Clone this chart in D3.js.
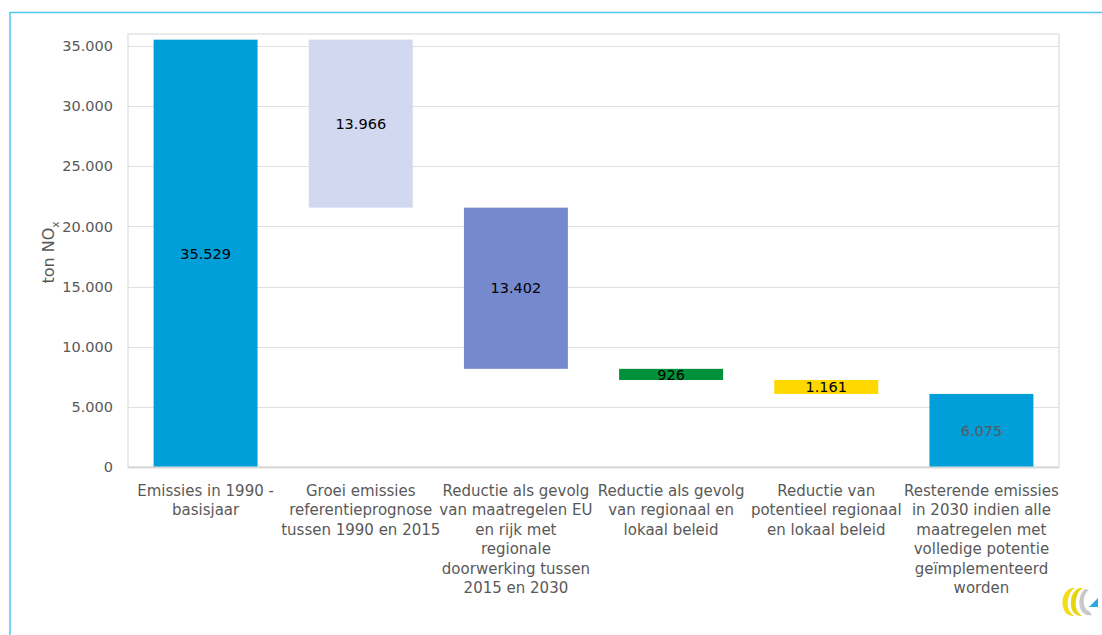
<!DOCTYPE html>
<html>
<head>
<meta charset="utf-8">
<script src="https://cdn.jsdelivr.net/npm/d3@7"></script>
<style>
  html, body { margin: 0; padding: 0; background: #fff; }
  svg { display: block; font-family: "DejaVu Sans", "Open Sans", sans-serif; }
</style>
</head>
<body>
<svg id="chart" width="1102" height="635"></svg>
<script>
// NOx waterfall: 1990 base, steps down to the remaining 2030 emissions
const categories = [
  ["Emissies in 1990 -", "basisjaar"],
  ["Groei emissies", "referentieprognose", "tussen 1990 en 2015"],
  ["Reductie als gevolg", "van maatregelen EU", "en rijk met", "regionale", "doorwerking tussen", "2015 en 2030"],
  ["Reductie als gevolg", "van regionaal en", "lokaal beleid"],
  ["Reductie van", "potentieel regionaal", "en lokaal beleid"],
  ["Resterende emissies", "in 2030 indien alle", "maatregelen met", "volledige potentie", "geïmplementeerd", "worden"]
];
const values = [35529, 13966, 13402, 926, 1161, 6075];
// "total" bars start at zero; "step" bars hang from the running total
const kinds = ["total", "step", "step", "step", "step", "total"];
const barColors = ["#009fda", "#d1d8ef", "#7689cf", "#00923a", "#ffd800", "#009fda"];
const labelColors = ["#000", "#000", "#000", "#000", "#000", "#595959"];
const yTicks = [0, 5000, 10000, 15000, 20000, 25000, 30000, 35000];

const svg = d3.select("#chart");
const margin = { left: 128, right: 1102 - 1059, top: 34, bottom: 635 - 467 };
const W = 1102, H = 635;
const fmt = v => d3.format(",")(v).replace(/,/g, ".");

// outer frame (top and left rules)
svg.append("line").attr("x1", 10).attr("x2", W).attr("y1", 12.5).attr("y2", 12.5)
  .attr("stroke", "#54c4ef").attr("stroke-width", 1.5);
svg.append("line").attr("x1", 10).attr("x2", 10).attr("y1", 12).attr("y2", H)
  .attr("stroke", "#54c4ef").attr("stroke-width", 1.5);

const x = d3.scaleBand()
  .domain(d3.range(categories.length))
  .range([margin.left, W - margin.right])
  .paddingInner(0.33).paddingOuter(0.165);

const y = d3.scaleLinear().domain([0, 36000]).range([H - margin.bottom, margin.top]);

// plot-area box
svg.append("rect")
  .attr("x", margin.left).attr("y", margin.top)
  .attr("width", W - margin.right - margin.left)
  .attr("height", H - margin.bottom - margin.top)
  .attr("fill", "none").attr("stroke", "#e3e3e3").attr("stroke-width", 1.5);

// gridlines
svg.append("g").selectAll("line").data(yTicks.slice(1)).join("line")
  .attr("x1", margin.left).attr("x2", W - margin.right)
  .attr("y1", d => Math.round(y(d)) + 0.5).attr("y2", d => Math.round(y(d)) + 0.5)
  .attr("stroke", "#e0e0e0").attr("stroke-width", 1);

// y axis labels
const yAxis = d3.axisLeft(y).tickValues(yTicks).tickSize(0).tickPadding(15).tickFormat(fmt);
const gy = svg.append("g").attr("transform", `translate(${margin.left},0)`).call(yAxis);
gy.select(".domain").remove();
gy.selectAll("text").attr("fill", "#595959").style("font-size", "14.5px")
  .style("font-family", "DejaVu Sans, sans-serif");

// y axis title
const yt = svg.append("text")
  .attr("transform", `translate(54,${(margin.top + H - margin.bottom) / 2 + 2}) rotate(-90)`)
  .attr("text-anchor", "middle").attr("fill", "#595959").style("font-size", "16px");
yt.append("tspan").text("ton NO");
yt.append("tspan").text("x").attr("dy", 5).style("font-size", "10.5px");

// bars
let running = 0;
const bars = values.map((v, i) => {
  let lo, hi;
  if (kinds[i] === "total") { lo = 0; hi = v; running = v; }
  else { hi = running; lo = running - v; running = lo; }
  return { i, v, lo, hi };
});

svg.append("g").selectAll("rect").data(bars).join("rect")
  .attr("x", d => x(d.i)).attr("width", x.bandwidth())
  .attr("y", d => y(d.hi)).attr("height", d => y(d.lo) - y(d.hi))
  .attr("fill", d => barColors[d.i]);

// baseline
svg.append("line").attr("x1", margin.left).attr("x2", W - margin.right)
  .attr("y1", y(0) + 0.5).attr("y2", y(0) + 0.5)
  .attr("stroke", "#d9d9d9").attr("stroke-width", 2);

// value labels
svg.append("g").selectAll("text").data(bars).join("text")
  .attr("x", d => x(d.i) + x.bandwidth() / 2)
  .attr("y", d => (y(d.lo) + y(d.hi)) / 2)
  .attr("dy", "0.36em").attr("text-anchor", "middle")
  .attr("fill", d => labelColors[d.i]).style("font-size", "14.5px")
  .text(d => fmt(d.v));

// category labels
const cat = svg.append("g").selectAll("text").data(categories).join("text")
  .attr("x", (d, i) => x(i) + x.bandwidth() / 2)
  .attr("y", 496)
  .attr("text-anchor", "middle").attr("fill", "#595959").style("font-size", "15px");
cat.selectAll("tspan").data(d => d).join("tspan")
  .attr("x", function () { return this.parentNode.getAttribute("x"); })
  .attr("dy", (d, j) => j === 0 ? 0 : 19.4)
  .text(d => d);

// small logo mark, bottom right
const logo = svg.append("g").attr("transform", "translate(1062,602)");
logo.append("path")
  .attr("d", "M10,-14 C2,-12 -2,-2 2,8 C4,12 8,14 12,14 C6,10 4,2 7,-6 C8,-10 10,-12 13,-14 Z")
  .attr("fill", "#f2dc1a");
logo.append("path")
  .attr("d", "M18,-14 C10,-12 7,-2 10,8 C12,12 16,14 20,14 C14,10 12,2 15,-6 C16,-10 18,-12 21,-14 Z")
  .attr("fill", "#e8d512");
logo.append("path")
  .attr("d", "M23,-13 C17,-8 16,2 19,8 C21,12 25,14 30,13 L27,9 C23,8 21,2 22,-4 C23,-8 25,-11 27,-12 Z")
  .attr("fill", "#c8c8c8");
logo.append("path")
  .attr("d", "M27,5 L36,-4 L36,5 Z")
  .attr("fill", "#29aae2");
</script>
</body>
</html>
